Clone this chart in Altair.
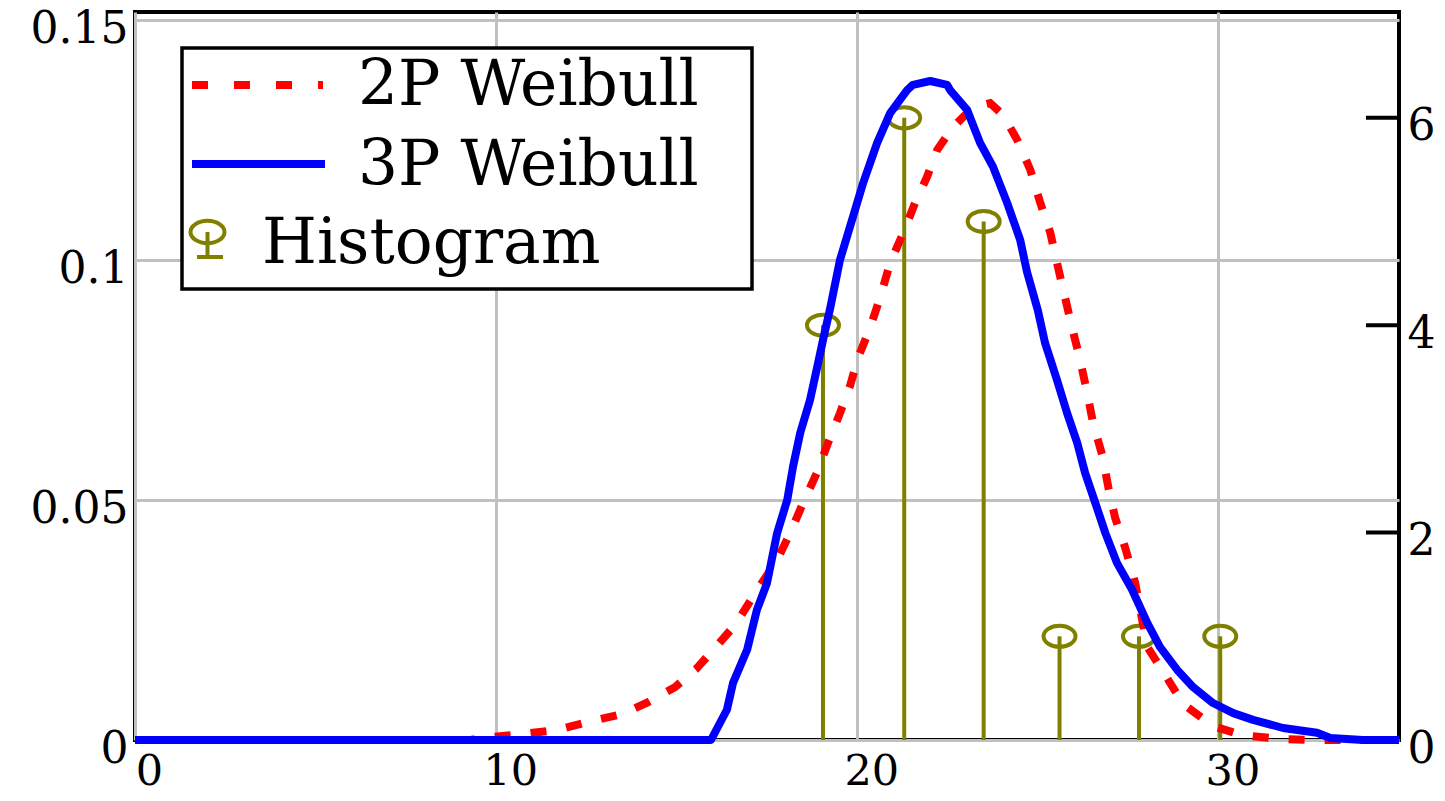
import altair as alt
import pandas as pd

# ---------------- data ----------------
x_2p = [0, 9.3, 9.55, 10.66, 11.69, 12.57, 13.49, 14.21, 14.95, 15.54, 16.06, 16.62,
        17.17, 17.78, 18.14, 18.50, 18.89, 19.19, 19.52, 19.80, 20.02, 20.35, 20.63,
        20.91, 21.27, 21.60, 21.93, 22.21, 22.63, 23.21, 23.68, 24.04, 24.43, 24.79,
        25.06, 25.34, 25.53, 25.75, 25.95, 26.17, 26.36, 26.53, 26.78, 26.95, 27.14,
        27.42, 27.69, 28.03, 28.58, 29.02, 29.85, 30.66, 31.79, 32.5, 35.0]
y_2p = [0, 0, 0.0004, 0.0012, 0.0021, 0.0038, 0.0054, 0.0079, 0.0110, 0.0148, 0.0192,
        0.0240, 0.0306, 0.0375, 0.0431, 0.0494, 0.0558, 0.0619, 0.0681, 0.0738, 0.0796,
        0.0858, 0.0921, 0.0994, 0.1056, 0.1119, 0.1173, 0.1229, 0.1275, 0.1319, 0.1327,
        0.1302, 0.1250, 0.1188, 0.1121, 0.1058, 0.0994, 0.0923, 0.0858, 0.0792, 0.0725,
        0.0660, 0.0594, 0.0527, 0.0463, 0.0400, 0.0329, 0.0194, 0.0129, 0.0075, 0.0029,
        0.0010, 0.0002, 0, 0]

x_3p = [0, 15.95, 16.39, 16.56, 16.95, 17.22, 17.50, 17.78, 18.06, 18.22, 18.42, 18.69,
        18.89, 19.05, 19.25, 19.52, 19.88, 20.16, 20.55, 20.91, 21.38, 21.54, 22.02,
        22.49, 22.57, 23.04, 23.40, 23.76, 24.15, 24.51, 24.70, 25.00, 25.20, 25.53,
        25.81, 26.09, 26.31, 26.59, 26.87, 27.19, 27.61, 28.03, 28.38, 28.86, 29.30,
        29.85, 30.41, 30.96, 31.79, 32.73, 33.10, 34.0, 35.0]
y_3p = [0, 0, 0.0063, 0.0119, 0.0188, 0.0271, 0.0327, 0.0431, 0.0500, 0.0569, 0.0640,
        0.0708, 0.0777, 0.0833, 0.0900, 0.1000, 0.1090, 0.1160, 0.1244, 0.1306, 0.1354,
        0.1365, 0.1373, 0.1365, 0.1354, 0.1313, 0.1244, 0.1194, 0.1119, 0.1042, 0.0975,
        0.0895, 0.0827, 0.0750, 0.0681, 0.0619, 0.0556, 0.0494, 0.0431, 0.0369, 0.0313,
        0.0244, 0.0194, 0.0146, 0.0110, 0.0077, 0.0056, 0.0042, 0.0025, 0.0015, 0.0004,
        0, 0]

hist_x = [19.05, 21.30, 23.50, 25.60, 27.80, 30.05]
hist_count = [4, 6, 5, 1, 1, 1]

x_ticks = [0, 10, 20, 30]
y_ticks = [0, 0.05, 0.1, 0.15]
count_ticks = [0, 2, 4, 6]
legend_labels = ["2P Weibull", "3P Weibull", "Histogram"]

# ---------------- styling ----------------
FONT = "DejaVu Serif"
RED = "#ff0000"
BLUE = "#0000ff"
OLIVE = "#808000"
GRID = "#c0c0c0"
ELLIPSE = "M-1,0A1,0.66,0,1,1,1,0A1,0.66,0,1,1,-1,0Z"

df2 = pd.DataFrame({"x": x_2p, "y": y_2p})
df3 = pd.DataFrame({"x": x_3p, "y": y_3p})
dfh = pd.DataFrame({"x": hist_x, "n": hist_count, "base": [0] * len(hist_x)})
dft = pd.DataFrame({"n": count_ticks})
one = pd.DataFrame({"k": [0]})

xscale = alt.Scale(domain=[0, 35], nice=False, zero=False)
yscale = alt.Scale(domain=[0, 0.15167], nice=False)
cscale = alt.Scale(domain=[0, 7.02], nice=False)

x_axis = alt.Axis(values=x_ticks, title=None, grid=True, gridColor=GRID, gridWidth=3,
                  ticks=False, tickSize=0, domain=False, labelFont=FONT, labelFontSize=43,
                  labelColor="black", labelPadding=10, labelOffset=14, labelFlush=False,
                  format="d")
y_axis = alt.Axis(values=y_ticks, title=None, grid=True, gridColor=GRID, gridWidth=3,
                  ticks=False, tickSize=0, domain=False, labelFont=FONT, labelFontSize=44,
                  labelColor="black", labelPadding=7, labelOffset=9, format="~g",
                  orient="left")
c_axis = alt.Axis(values=count_ticks, title=None, grid=False, ticks=False, tickSize=0,
                  domain=False, labelFont=FONT, labelFontSize=44, labelColor="black",
                  labelPadding=8, labelOffset=9, format="d", orient="right")

X = alt.X("x:Q", scale=xscale, axis=x_axis)

# histogram (right axis)
stems = alt.Chart(dfh).mark_rule(color=OLIVE, strokeWidth=4).encode(
    x=X, y=alt.Y("n:Q", scale=cscale, axis=c_axis), y2="base:Q")
circles = alt.Chart(dfh).mark_point(shape=ELLIPSE, size=1024, filled=False,
                                    strokeWidth=4, color=OLIVE, opacity=1).encode(
    x=X, y=alt.Y("n:Q", scale=cscale, axis=c_axis))
rticks = alt.Chart(dft).mark_rule(color="black", strokeWidth=4).encode(
    y=alt.Y("n:Q", scale=cscale, axis=c_axis), x=alt.value(1231), x2=alt.value(1264))
count_group = alt.layer(stems, circles, rticks)

# density curves (left axis)
red = alt.Chart(df2).mark_line(color=RED, strokeWidth=8, strokeDash=[16, 20],
                               strokeCap="butt").encode(
    x=X, y=alt.Y("y:Q", scale=yscale, axis=y_axis))
blue = alt.Chart(df3).mark_line(color=BLUE, strokeWidth=8, strokeJoin="round").encode(
    x=X, y=alt.Y("y:Q", scale=yscale, axis=y_axis))
curve_group = alt.layer(red, blue)

# legend
box = alt.Chart(one).mark_rect(fill="white", stroke="black", strokeWidth=3.5).encode(
    x=alt.value(47), x2=alt.value(617), y=alt.value(36), y2=alt.value(277))
leg_red = alt.Chart(one).mark_rule(color=RED, strokeWidth=8, strokeDash=[16, 26],
                                   strokeCap="butt").encode(
    x=alt.value(57), x2=alt.value(188), y=alt.value(73))
leg_blue = alt.Chart(one).mark_rule(color=BLUE, strokeWidth=8).encode(
    x=alt.value(57), x2=alt.value(190), y=alt.value(152))
leg_stem = alt.Chart(one).mark_rule(color=OLIVE, strokeWidth=4).encode(
    x=alt.value(72.5), y=alt.value(220), y2=alt.value(245))
leg_foot = alt.Chart(one).mark_rule(color=OLIVE, strokeWidth=4).encode(
    x=alt.value(62), x2=alt.value(88), y=alt.value(245))
leg_circ = alt.Chart(one).mark_point(shape=ELLIPSE, size=1156, filled=False,
                                     strokeWidth=4, color=OLIVE, opacity=1).encode(
    x=alt.value(72.5), y=alt.value(220))

def leg_text(label, x, y):
    return alt.Chart(pd.DataFrame({"label": [label]})).mark_text(
        font=FONT, fontSize=63, align="left", baseline="alphabetic", color="black"
    ).encode(text="label:N", x=alt.value(x), y=alt.value(y))

legend_group = alt.layer(
    box, leg_red, leg_blue, leg_stem, leg_foot, leg_circ,
    leg_text(legend_labels[0], 223, 93),
    leg_text(legend_labels[1], 223, 173),
    leg_text(legend_labels[2], 127, 251),
)

chart = alt.layer(count_group, curve_group, legend_group).resolve_scale(
    y="independent"
).properties(
    width=1264, height=728,
    padding={"left": 127, "top": 4, "right": 38, "bottom": 57},
    autosize=alt.AutoSizeParams(type="none"),
    background="white",
).configure_view(stroke="black", strokeWidth=4)

chart.save("out.html", embed_options={"renderer": "svg", "actions": False})
